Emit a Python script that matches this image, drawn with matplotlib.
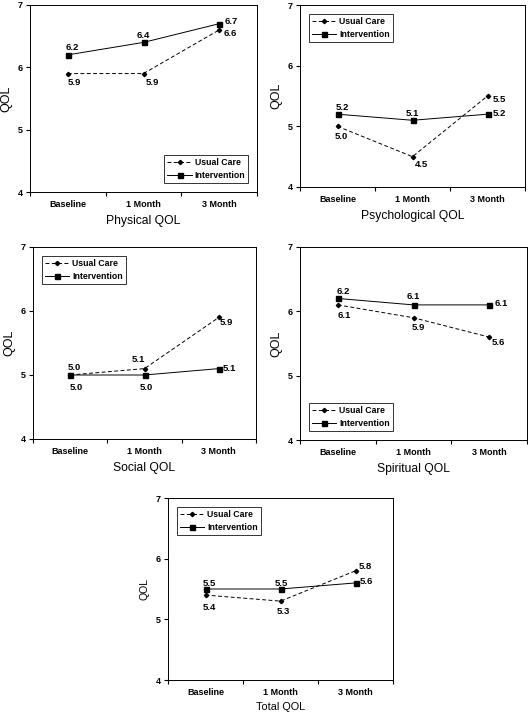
import numpy as np
import matplotlib.pyplot as plt

plt.rcParams['font.family'] = ['Liberation Sans', 'DejaVu Sans']

timepoints = ['Baseline', '1 Month', '3 Month']
panel_titles = ['Physical QOL', 'Psychological QOL', 'Social QOL', 'Spiritual QOL', 'Total QOL']
usual_care = [
    [5.9, 5.9, 6.6],
    [5.0, 4.5, 5.5],
    [5.0, 5.1, 5.9],
    [6.1, 5.9, 5.6],
    [5.4, 5.3, 5.8],
]
intervention = [
    [6.2, 6.4, 6.7],
    [5.2, 5.1, 5.2],
    [5.0, 5.0, 5.1],
    [6.2, 6.1, 6.1],
    [5.5, 5.5, 5.6],
]

W, H = 528, 713
# axes boxes in pixels: left, top, right, bottom
boxes = [(30, 5, 257, 192), (300, 5, 525, 187), (33, 247, 256, 439),
         (300, 247, 527, 440), (168, 498, 393, 680)]
legend_locs = ['lower right', 'upper left', 'upper left', 'lower left', 'upper left']
# label offsets (pixels) for usual care / intervention
uc_off = [[(7, -9), (9, -9), (11, -4)],
          [(4, -10), (9, -8), (12, -4)],
          [(4, 7), (-6, 9), (8, -5)],
          [(6, -11), (5, -10), (9, -5)],
          [(4, -12), (3, -10), (10, 4)]]
iv_off = [[(4, 7), (0, 7), (12, 2)],
          [(5, 7), (0, 7), (12, 1)],
          [(6, -12), (2, -12), (11, 0)],
          [(5, 7), (0, 8), (12, 1)],
          [(4, 6), (1, 6), (11, 1)]]

fig = plt.figure(figsize=(W / 100, H / 100), dpi=100)
x = np.arange(len(timepoints)) + 0.5

for i, (l, t, r, b) in enumerate(boxes):
    wpx, hpx = r - l, b - t
    ax = fig.add_axes([l / W, 1 - b / H, wpx / W, hpx / H])
    ax.plot(x, usual_care[i], color='black', lw=0.7, ls=(0, (4, 2.5)),
            marker='D', ms=2.2, label='Usual Care')
    ax.plot(x, intervention[i], color='black', lw=0.7, ls='-',
            marker='s', ms=3.6, label='Intervention')
    for j in range(len(x)):
        ax.annotate('%.1f' % usual_care[i][j], (x[j], usual_care[i][j]),
                    xytext=uc_off[i][j], textcoords='offset pixels',
                    ha='center', va='center', fontsize=6.8, fontweight='bold')
        ax.annotate('%.1f' % intervention[i][j], (x[j], intervention[i][j]),
                    xytext=iv_off[i][j], textcoords='offset pixels',
                    ha='center', va='center', fontsize=6.8, fontweight='bold')
    ax.set_xlim(0, 3)
    ax.set_ylim(4, 7)
    ax.set_yticks([4, 5, 6, 7])
    ax.set_xticks([0, 1, 2, 3])
    ax.set_xticklabels([])
    ax.set_xticks(x, minor=True)
    ax.set_xticklabels(timepoints, minor=True)
    ax.tick_params(axis='x', which='minor', length=0, pad=5.5)
    ax.tick_params(axis='x', which='major', length=3, direction='out')
    ax.tick_params(axis='y', length=3, direction='out', pad=2)
    for lab in ax.get_xticklabels(minor=True) + ax.get_yticklabels():
        lab.set_fontsize(6.5)
        lab.set_fontweight('bold')
    for s in ax.spines.values():
        s.set_linewidth(0.7)
    if i < 4:
        ax.set_xlabel(panel_titles[i], fontsize=8.7, va='center')
        ax.set_ylabel('QOL', fontsize=9, va='center')
        ax.xaxis.set_label_coords(0.5, -29 / hpx)
    else:
        ax.set_xlabel(panel_titles[i], fontsize=7.8, va='center')
        ax.set_ylabel('QOL', fontsize=7.5, va='center')
        ax.xaxis.set_label_coords(0.5, -27 / hpx)
    ax.yaxis.set_label_coords(-24 / wpx, 0.5)
    leg = ax.legend(loc=legend_locs[i], prop={'weight': 'bold', 'size': 6.3},
                    frameon=True, fancybox=False, edgecolor='black',
                    handlelength=2.8, borderpad=0.35, labelspacing=0.45,
                    handletextpad=0.3, borderaxespad=1.0)
    leg.get_frame().set_linewidth(0.7)

fig.savefig('out.png', dpi=100)
